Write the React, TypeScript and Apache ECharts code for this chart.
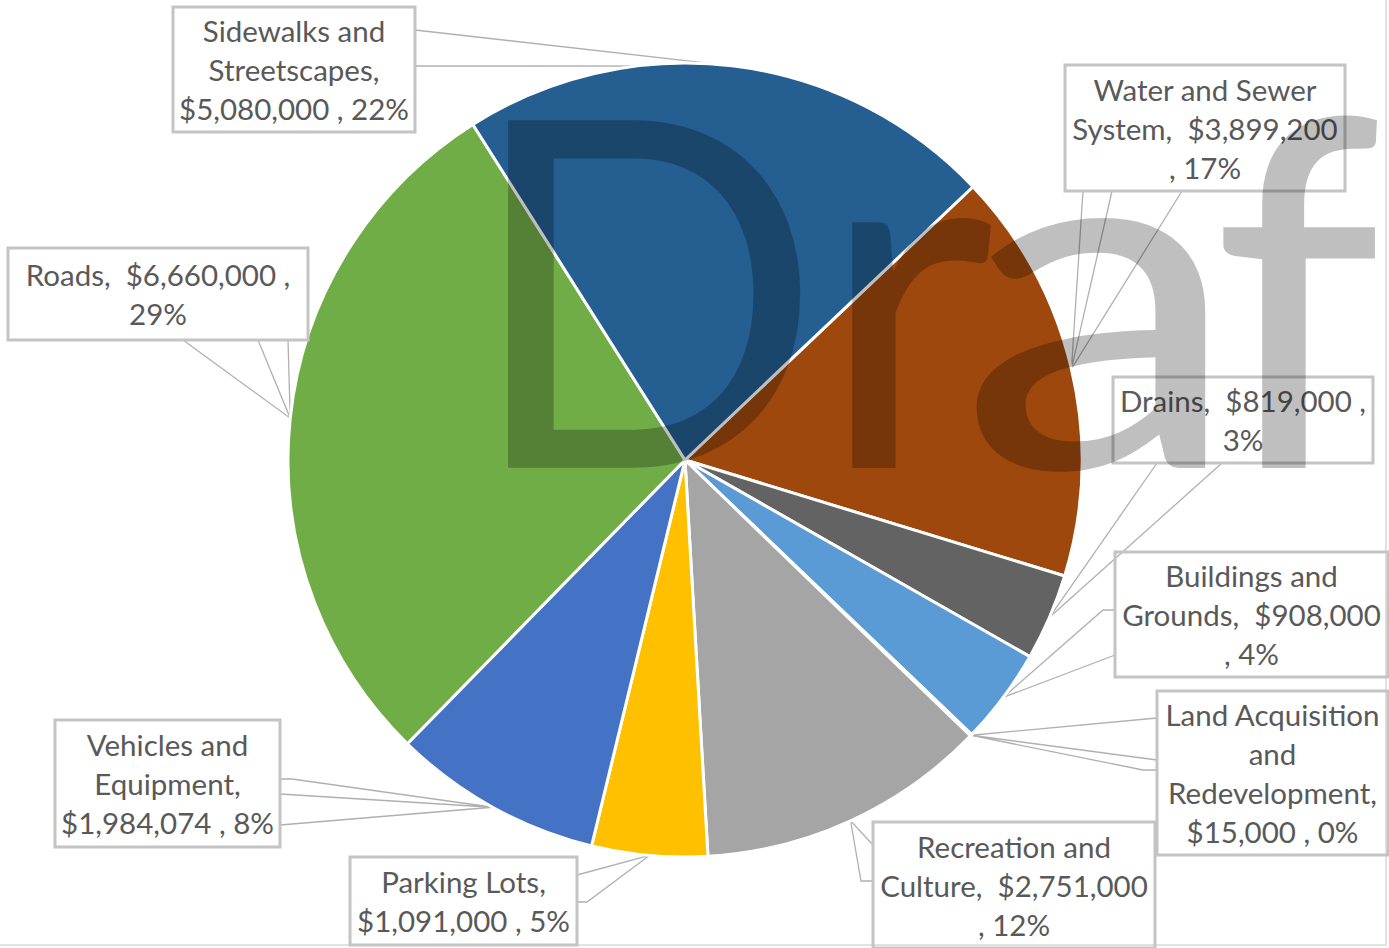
import React, { useEffect, useRef } from "react";
import * as echarts from "echarts";

const categories = [
  "Water and Sewer System",
  "Drains",
  "Buildings and Grounds",
  "Land Acquisition and Redevelopment",
  "Recreation and Culture",
  "Parking Lots",
  "Vehicles and Equipment",
  "Roads",
  "Sidewalks and Streetscapes",
];
const values = [3899200, 819000, 908000, 15000, 2751000, 1091000, 1984074, 6660000, 5080000];
const colors = ["#9E480E", "#636363", "#5B9BD5", "#997300", "#A5A5A5", "#FFC000", "#4472C4", "#70AD47", "#255E91"];
const labelTexts = [
  "Water and Sewer\nSystem,  $3,899,200\n, 17%",
  "Drains,  $819,000 ,\n3%",
  "Buildings and\nGrounds,  $908,000\n, 4%",
  "Land Acquisition\nand\nRedevelopment,\n$15,000 , 0%",
  "Recreation and\nCulture,  $2,751,000\n, 12%",
  "Parking Lots,\n$1,091,000 , 5%",
  "Vehicles and\nEquipment,\n$1,984,074 , 8%",
  "Roads,  $6,660,000 ,\n29%",
  "Sidewalks and\nStreetscapes,\n$5,080,000 , 22%",
];

// label box layout [x, y, w, h]
const labelBoxes = [
  [1065, 65, 280, 126],
  [1113, 377, 260, 86],
  [1115, 552, 273, 125],
  [1157, 691, 231, 164],
  [873, 822, 282, 126],
  [350, 857, 227, 88],
  [55, 720, 225, 127],
  [8, 248, 300, 92],
  [173, 7, 242, 125],
];
// callout points; null = anchor on pie edge
const calloutPts: (number[] | null)[][] = [
  [[1083, 191], null, [1112, 191], null, [1182, 191]],
  [[1157, 463], null, [1222, 463]],
  [[1115, 610], [1103, 610], null, [1115, 655]],
  [[1157, 718], null, [1157, 760], null, [1143, 770], [1157, 770]],
  [[873, 845], null, [861, 881], [873, 881]],
  [[577, 875], null, [587, 902], [577, 902]],
  [[280, 779], [292, 779], null, [280, 794], null, [280, 825]],
  [[183, 340], null, [258, 340], null, [288, 340]],
  [[415, 30], null, [415, 66]],
];

const watermarkLetters = ["D", "r", "a", "f"];
const watermarkX = [465, 818, 958, 1212];
const watermarkScaleX = [0.97, 1, 1.18, 1];

const LH = 39;
const FONT = "Lato";

export default function App() {
  const ref = useRef<HTMLDivElement>(null);
  useEffect(() => {
    const chart = echarts.init(ref.current!, null, { renderer: "svg" });
    const data = categories.map((name, i) => {
      const b = labelBoxes[i];
      const n = labelTexts[i].split("\n").length;
      const pv = Math.max(0, (b[3] - n * LH) / 2);
      return {
        name,
        value: values[i],
        itemStyle: { color: colors[i] },
        label: {
          formatter: labelTexts[i],
          width: b[2],
          padding: [pv, 0, pv, 0],
        },
      };
    });
    chart.setOption({
      animation: false,
      backgroundColor: "#ffffff",
      graphic: [
        {
          type: "rect",
          z: 1,
          shape: { x: -2, y: -2, width: 1388, height: 947 },
          style: { fill: "none", stroke: "#D9D9D9", lineWidth: 1.5 },
          silent: true,
        },
        ...watermarkLetters.map((ch, i) => ({
          type: "text",
          z: 100,
          silent: true,
          x: watermarkX[i],
          y: 280,
          scaleX: watermarkScaleX[i],
          style: {
            text: ch,
            font: `485px ${FONT}`,
            fill: "rgba(0,0,0,0.25)",
            align: "left",
            verticalAlign: "middle",
          },
        })),
      ],
      series: [
        {
          type: "pie",
          center: [685, 460],
          radius: 397,
          startAngle: 43.5,
          clockwise: true,
          avoidLabelOverlap: false,
          minShowLabelAngle: 0,
          emphasis: { disabled: true },
          itemStyle: { borderColor: "#ffffff", borderWidth: 3 },
          label: {
            show: true,
            position: "outside",
            color: "#595959",
            fontFamily: FONT,
            fontSize: 29.5,
            lineHeight: LH,
            align: "center",
            overflow: "none",
            borderColor: "#C4C4C4",
            borderWidth: 1.5,
            backgroundColor: "transparent",
          },
          labelLine: {
            show: true,
            smooth: false,
            lineStyle: { color: "#B0B0B0", width: 1.3 },
          },
          labelLayout: (params: any) => {
            const i = params.dataIndex;
            const b = labelBoxes[i];
            const p = params.labelLinePoints ? params.labelLinePoints[0] : [0, 0];
            const pts = calloutPts[i].map((q) => (q ? q : p));
            return {
              x: b[0] + b[2] / 2,
              y: b[1] + b[3] / 2,
              align: "center",
              verticalAlign: "middle",
              labelLinePoints: pts,
              hideOverlap: false,
            };
          },
          data,
        },
      ],
    });
    return () => chart.dispose();
  }, []);
  return (
    <div
      ref={ref}
      style={{ position: "fixed", left: 0, top: 0, width: 1389, height: 948, background: "#fff" }}
    />
  );
}
